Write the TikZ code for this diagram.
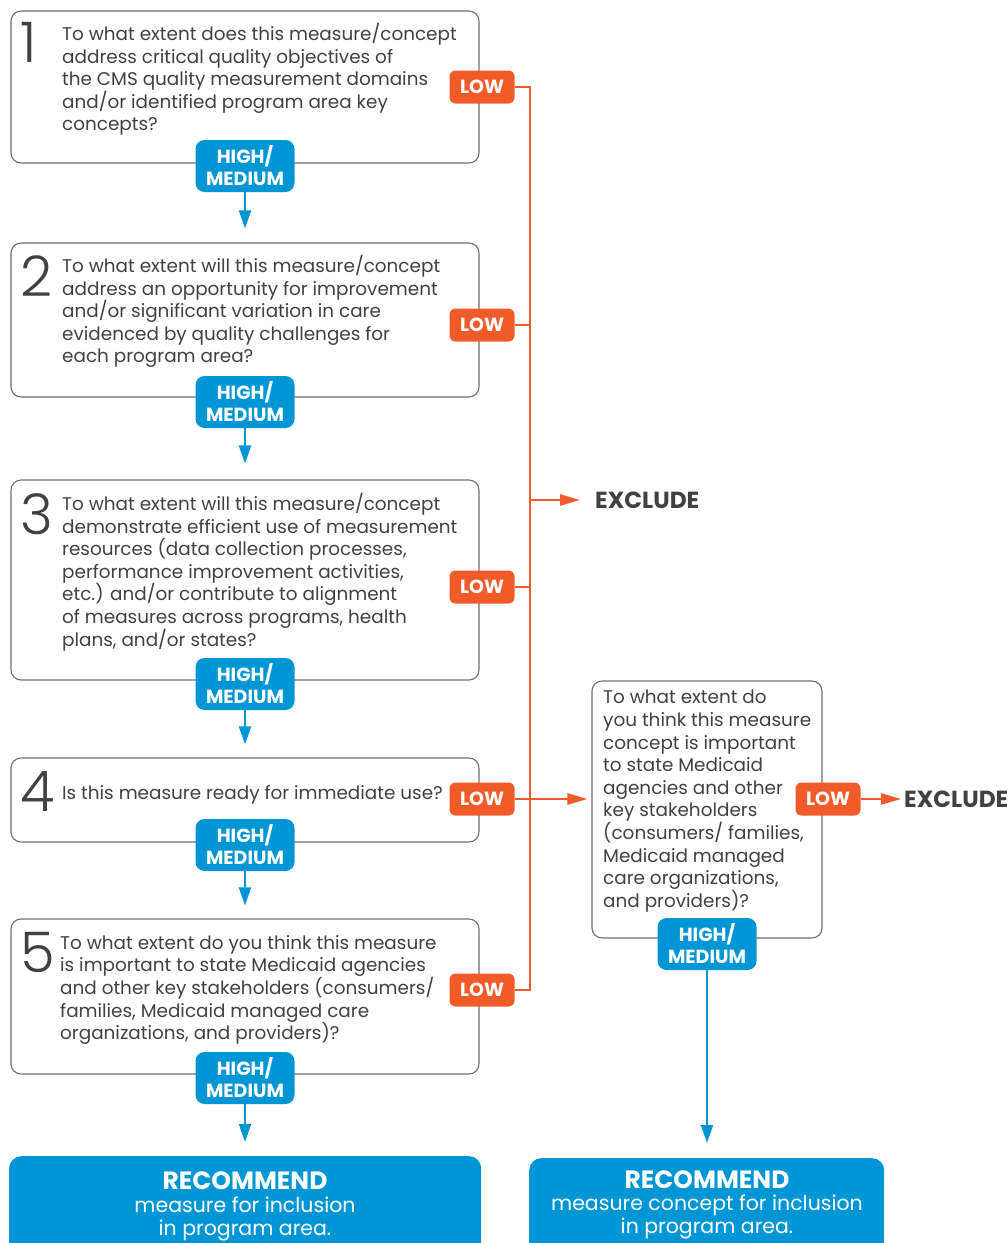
\documentclass[tikz,border=0pt]{standalone}
\usepackage{fontspec}
\setmainfont{Poppins}
\newfontfamily\lightfont{Poppins Light}
\usetikzlibrary{arrows.meta}
\definecolor{cmsorange}{HTML}{F15A29}
\definecolor{cmsblue}{HTML}{0096D6}
\definecolor{boxgray}{HTML}{6D6E71}
\definecolor{txtgray}{HTML}{414042}
\tikzset{
  qbox/.style={draw=boxgray, line width=1.1pt, rounded corners=10pt, inner sep=0pt},
  qtext/.style={anchor=north west, align=left, inner sep=0pt, text=txtgray, font=\fontsize{18.4}{22.6}\selectfont},
  qnum/.style={anchor=base west, inner sep=0pt, text=txtgray, font=\lightfont\fontsize{56}{56}\selectfont},
  lowbox/.style={fill=cmsorange, rounded corners=6pt, minimum width=65pt, minimum height=33pt, inner sep=0pt, text=white, font=\bfseries\fontsize{19}{19}\selectfont},
  hmbox/.style={fill=cmsblue, rounded corners=9pt, minimum width=99pt, minimum height=52pt, inner sep=0pt, text=white, align=center, font=\bfseries\fontsize{19}{22}\selectfont},
  exlabel/.style={anchor=west, inner sep=0pt, text=txtgray, font=\bfseries\fontsize{23.3}{23.3}\selectfont},
  recbox/.style={fill=cmsblue, rounded corners=12pt, inner sep=0pt, anchor=north west, minimum height=120pt},
  rectitle/.style={anchor=north, inner sep=0pt, text=white, font=\bfseries\fontsize{25}{25}\selectfont},
  rectext/.style={anchor=north, align=center, inner sep=0pt, text=white, font=\fontsize{20.5}{23}\selectfont},
  obus/.style={draw=cmsorange, line width=2.5pt},
  oarrow/.style={draw=cmsorange, line width=2.5pt, -{Triangle[length=20pt,width=11pt]}},
  barrow/.style={draw=cmsblue, line width=2pt, -{Triangle[length=18pt,width=12pt]}}
}
\begin{document}
\begin{tikzpicture}[x=1pt,y=-1pt]
\useasboundingbox (0,0) rectangle (1008,1243);
% question boxes
\node[qbox, minimum width=468pt, minimum height=152pt] (q1) at (245,87) {};
\node[qbox, minimum width=468pt, minimum height=154pt] (q2) at (245,320) {};
\node[qbox, minimum width=468pt, minimum height=200pt] (q3) at (245,580) {};
\node[qbox, minimum width=468pt, minimum height=84pt] (q4) at (245,800) {};
\node[qbox, minimum width=468pt, minimum height=155pt] (q5) at (245,996.5) {};
\node[qbox, minimum width=230pt, minimum height=257pt] (qr) at (707,809.5) {};
% numbers
\node[qnum] (n1) at (20,62) {1};
\node[qnum] (n2) at (20,296) {2};
\node[qnum] (n3) at (20,534) {3};
\node[qnum] (n4) at (20,811) {4};
\node[qnum] (n5) at (20,972) {5};
% texts
\node[qtext] (t1) at (62,23) {To what extent does this measure/concept\\address critical quality objectives of\\the CMS quality measurement domains\\and/or identified program area key\\concepts?};
\node[qtext] (t2) at (62,255) {To what extent will this measure/concept\\address an opportunity for improvement\\and/or significant variation in care\\evidenced by quality challenges for\\each program area?};
\node[qtext] (t3) at (62,493) {To what extent will this measure/concept\\demonstrate efficient use of measurement\\resources (data collection processes,\\performance improvement activities,\\etc.) and/or contribute to alignment\\of measures across programs, health\\plans, and/or states?};
\node[qtext] (t4) at (62,785) {Is this measure ready for immediate use?};
\node[qtext] (t5) at (60,935) {To what extent do you think this measure\\is important to state Medicaid agencies\\and other key stakeholders (consumers/\\families, Medicaid managed care\\organizations, and providers)?};
\node[qtext] (tr) at (603,690) {To what extent do\\you think this measure\\concept is important\\to state Medicaid\\agencies and other\\key stakeholders\\(consumers/ families,\\Medicaid managed\\care organizations,\\and providers)?};
% recommend boxes
\node[recbox, minimum width=472pt] (rec1) at (9,1156) {};
\node[recbox, minimum width=355pt] (rec2) at (529,1158) {};
\node[rectitle] (rt1) at (245,1171) {RECOMMEND};
\node[rectext] (rb1) at (245,1197) {measure for inclusion\\in program area.};
\node[rectitle] (rt2) at (707,1170) {RECOMMEND};
\node[rectext] (rb2) at (707,1195) {measure concept for inclusion\\in program area.};
% labels
\node[lowbox] (low1) at (482,87) {LOW};
\node[lowbox] (low2) at (482,325) {LOW};
\node[lowbox] (low3) at (482,587) {LOW};
\node[lowbox] (low4) at (482,799) {LOW};
\node[lowbox] (low5) at (482,990) {LOW};
\node[lowbox] (lowr) at (828,799) {LOW};
\node[hmbox] (hm1) at (245,166) {HIGH/\\MEDIUM};
\node[hmbox] (hm2) at (245,402) {HIGH/\\MEDIUM};
\node[hmbox] (hm3) at (245,684) {HIGH/\\MEDIUM};
\node[hmbox] (hm4) at (245,845) {HIGH/\\MEDIUM};
\node[hmbox] (hm5) at (245,1078) {HIGH/\\MEDIUM};
\node[hmbox] (hmr) at (707,944) {HIGH/\\MEDIUM};
\node[exlabel] (ex1) at (595,500) {EXCLUDE};
\node[exlabel] (exr) at (904,799) {EXCLUDE};
% orange connectors
\coordinate (bus) at (530,500);
\draw[obus] (low1.east) -- (low1.east -| bus) -- (low5.east -| bus) -- (low5.east);
\draw[obus] (low2.east) -- (low2.east -| bus);
\draw[obus] (low3.east) -- (low3.east -| bus);
\draw[oarrow, shorten >=15pt] (bus) -- (ex1.west);
\draw[oarrow, shorten >=4pt] (low4.east) -- (low4.east -| qr.west);
\draw[oarrow, shorten >=3pt] (lowr.east) -- (exr.west);
% blue connectors
\draw[barrow, shorten >=14pt] (hm1.south) -- (q2.north);
\draw[barrow, shorten >=16pt] (hm2.south) -- (q3.north);
\draw[barrow, shorten >=13pt] (hm3.south) -- (q4.north);
\draw[barrow, shorten >=13pt] (hm4.south) -- (q5.north);
\draw[barrow, shorten >=14pt] (hm5.south) -- (hm5.south |- rec1.north);
\draw[barrow, shorten >=15pt] (hmr.south) -- (hmr.south |- rec2.north);
\end{tikzpicture}
\end{document}
